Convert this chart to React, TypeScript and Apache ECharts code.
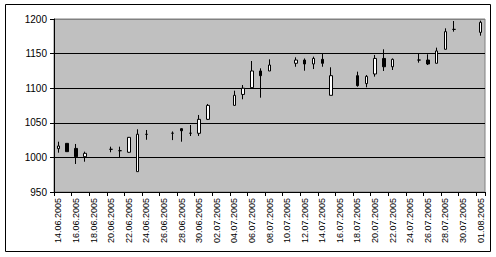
import React, { useEffect, useRef } from "react";
import * as echarts from "echarts";

// Every calendar day from 14.06.2005 to 01.08.2005
const dates: string[] = [
  "14.06.2005", "15.06.2005", "16.06.2005", "17.06.2005", "18.06.2005", "19.06.2005", "20.06.2005",
  "21.06.2005", "22.06.2005", "23.06.2005", "24.06.2005", "25.06.2005", "26.06.2005", "27.06.2005",
  "28.06.2005", "29.06.2005", "30.06.2005", "01.07.2005", "02.07.2005", "03.07.2005", "04.07.2005",
  "05.07.2005", "06.07.2005", "07.07.2005", "08.07.2005", "09.07.2005", "10.07.2005", "11.07.2005",
  "12.07.2005", "13.07.2005", "14.07.2005", "15.07.2005", "16.07.2005", "17.07.2005", "18.07.2005",
  "19.07.2005", "20.07.2005", "21.07.2005", "22.07.2005", "23.07.2005", "24.07.2005", "25.07.2005",
  "26.07.2005", "27.07.2005", "28.07.2005", "29.07.2005", "30.07.2005", "31.07.2005", "01.08.2005",
];

// [open, close, low, high]; null = no trading (weekend)
type Candle = [number, number, number, number] | null;
const candles: Candle[] = [
  [1012.6, 1016.5, 1006.8, 1022.7],
  [1020.3, 1008.3, 1008.3, 1020.3],
  [1013.0, 1001.0, 990.5, 1019.4],
  [1001.0, 1005.9, 993.8, 1008.3],
  null,
  null,
  [1011.7, 1011.7, 1007.4, 1015.5],
  [1009.7, 1009.7, 1000.1, 1015.5],
  [1007.4, 1029.0, 1006.8, 1029.5],
  [979.4, 1033.5, 979.4, 1040.6],
  [1033.3, 1033.3, 1025.5, 1039.6],
  null,
  null,
  [1034.9, 1034.9, 1025.0, 1037.5],
  [1041.5, 1038.5, 1022.7, 1042.0],
  [1034.9, 1034.9, 1030.9, 1046.8],
  [1034.8, 1055.0, 1031.0, 1061.3],
  [1055.0, 1075.2, 1054.0, 1077.2],
  null,
  null,
  [1075.2, 1089.7, 1075.2, 1096.4],
  [1091.0, 1100.0, 1084.0, 1104.6],
  [1100.8, 1124.9, 1100.8, 1139.3],
  [1124.9, 1118.1, 1086.3, 1128.7],
  [1124.9, 1133.5, 1124.9, 1141.7],
  null,
  null,
  [1136.0, 1140.7, 1131.0, 1144.6],
  [1140.7, 1135.0, 1125.3, 1143.0],
  [1135.0, 1143.0, 1127.7, 1145.6],
  [1141.7, 1136.0, 1131.0, 1150.4],
  [1089.7, 1118.1, 1089.7, 1130.2],
  null,
  null,
  [1118.1, 1103.7, 1102.2, 1123.9],
  [1106.6, 1117.1, 1101.3, 1119.0],
  [1120.5, 1143.0, 1116.7, 1148.0],
  [1143.0, 1131.0, 1124.9, 1156.2],
  [1131.0, 1141.7, 1126.3, 1143.0],
  null,
  null,
  [1140.7, 1140.7, 1136.9, 1150.4],
  [1140.7, 1135.0, 1133.5, 1149.0],
  [1136.0, 1153.8, 1136.0, 1158.6],
  [1156.2, 1181.7, 1156.2, 1186.5],
  [1185.0, 1185.0, 1181.7, 1197.1],
  null,
  null,
  [1180.7, 1195.2, 1175.9, 1197.6],
];

const yMin = 950;
const yMax = 1200;
const yStep = 50;

const FONT = "'Liberation Sans', Arial, sans-serif";

export default function App() {
  const ref = useRef<HTMLDivElement>(null);

  useEffect(() => {
    if (!ref.current) return;
    const chart = echarts.init(ref.current, null, { renderer: "svg" });
    chart.setOption({
      animation: false,
      backgroundColor: "#ffffff",
      grid: {
        left: 54,
        top: 19,
        width: 431,
        height: 173,
        show: true,
        backgroundColor: "#C0C0C0",
        borderColor: "#808080",
        borderWidth: 1,
      },
      xAxis: {
        type: "category",
        data: dates,
        boundaryGap: true,
        axisLine: { show: true, lineStyle: { color: "#000", width: 1 } },
        axisTick: { show: true, interval: 1, length: 4, lineStyle: { color: "#000" } },
        axisLabel: {
          interval: 1,
          rotate: 90,
          margin: 6,
          fontSize: 9,
          color: "#000",
          fontFamily: FONT,
        },
        splitLine: { show: false },
      },
      yAxis: {
        type: "value",
        min: yMin,
        max: yMax,
        interval: yStep,
        axisLine: { show: true, lineStyle: { color: "#000", width: 1 } },
        axisTick: { show: true, length: 4, lineStyle: { color: "#000" } },
        axisLabel: {
          margin: 7,
          fontSize: 10,
          color: "#000",
          fontFamily: FONT,
          formatter: (v: number) => String(v),
        },
        splitLine: {
          show: true,
          lineStyle: {
            color: ["#000", "#000", "#000", "#000", "#000", "#808080"],
            width: 1,
          },
        },
      },
      graphic: [
        {
          type: "rect",
          shape: { x: 5.5, y: 4.5, width: 485, height: 247 },
          style: { fill: "none", stroke: "#000", lineWidth: 1 },
          silent: true,
        },
      ],
      series: [
        {
          type: "candlestick",
          barWidth: 3,
          data: candles.map((c) => (c ? c : "-")),
          itemStyle: {
            color: "#ffffff",
            color0: "#000000",
            borderColor: "#000000",
            borderColor0: "#000000",
            borderColorDoji: "#000000",
            borderWidth: 1,
          },
        },
      ],
    });
    return () => chart.dispose();
  }, []);

  return (
    <div
      ref={ref}
      style={{ position: "fixed", left: 0, top: 0, width: 496, height: 257 }}
    />
  );
}
